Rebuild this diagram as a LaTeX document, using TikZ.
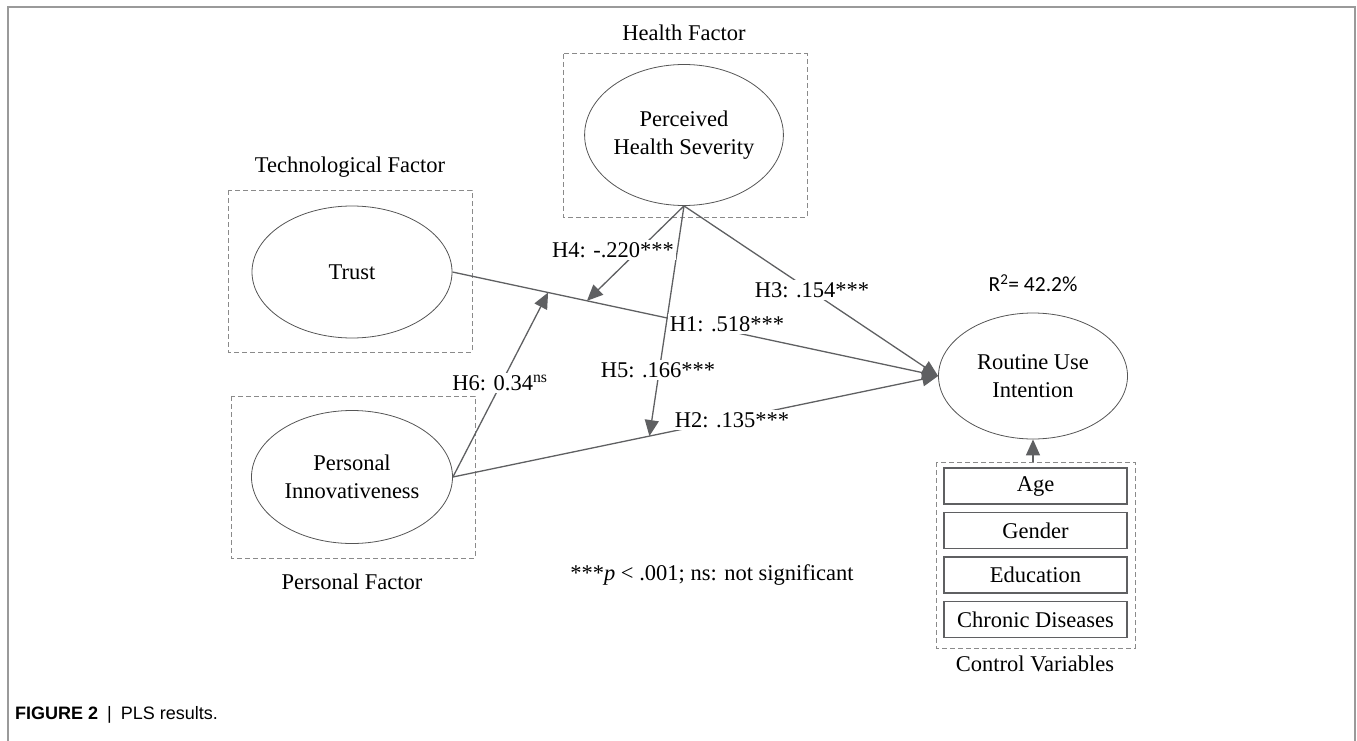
\documentclass[tikz,border=0pt]{standalone}
\usepackage{fontspec}
\setmainfont{Liberation Serif}
\newfontfamily\capfont{Liberation Sans}
\newfontfamily\calfont{Carlito}
\usetikzlibrary{shapes.geometric,arrows.meta,calc}
\definecolor{lnc}{HTML}{5F6062}
\definecolor{dsh}{HTML}{8A8A8A}
\definecolor{frm}{HTML}{9A9A9A}
\definecolor{ell}{HTML}{555555}
\begin{document}
\begin{tikzpicture}[x=1pt,y=-1pt,
  txt/.style={font=\fontsize{22.5}{28}\selectfont, inner sep=1pt},
  lat/.style={ellipse, draw=ell, line width=0.8pt, align=center, txt, inner sep=0pt},
  grp/.style={draw=dsh, dashed, dash pattern=on 5pt off 3pt, line width=1pt},
  conn/.style={draw=lnc, line width=1.3pt},
  arr/.style={conn, -{Triangle[length=16pt,width=14pt]}},
  lab/.style={txt, fill=white, inner sep=2pt},
  cv/.style={draw=lnc, line width=1.3pt, minimum width=183pt, minimum height=36pt, txt}
]
\useasboundingbox (0,0) rectangle (1357,741);
% outer frame
\draw[frm, line width=1.8pt] (8,741) -- (8,7) -- (1355,7) -- (1355,741);

% group boxes
\draw[grp] (563,54) rectangle (807,217);
\draw[grp] (228,190) rectangle (472,352);
\draw[grp] (231,396) rectangle (475,558);
\draw[grp] (936,462) rectangle (1135,648);

% group labels
\node[txt] (hf) at (684,33) {Health Factor};
\node[txt] (tf) at (350,167) {Technological Factor};
\node[txt] (pf) at (352,582) {Personal Factor};
\node[txt] (cvl) at (1035,664) {Control Variables};

% latent variables
\node[lat, minimum width=195pt, minimum height=141pt] (P) at (684,135) {Perceived\\Health Severity};
\node[lat, minimum width=200pt, minimum height=132pt] (T) at (352,272) {Trust};
\node[lat, minimum width=201pt, minimum height=133pt] (I) at (352,477) {Personal\\Innovativeness};
\node[lat, minimum width=189pt, minimum height=126pt] (R) at (1033,376) {Routine Use\\Intention};

\node[font=\calfont\fontsize{21.5}{25}\selectfont] (r2) at (1033,283) {R\textsuperscript{2}= 42.2\%};

% control variables
\node[cv] (age) at (1035.5,486) {Age};
\node[cv] (gen) at (1035.5,530.5) {Gender};
\node[cv] (edu) at (1035.5,575) {Education};
\node[cv] (chr) at (1035.5,619.5) {Chronic Diseases};
\coordinate (cvtop) at (1033,462);
\draw[arr] (cvtop) -- (R.south);

% moderation points
\coordinate (m4) at ($(T.east)!0.277!(R.west)$);
\coordinate (m6) at ($(T.east)!0.197!(R.west)$);
\coordinate (m5) at ($(I.east)!0.405!(R.west)$);

% paths
\draw[arr] (T.east) -- (R.west);
\draw[arr] (I.east) -- (R.west);
\draw[arr] (P.south) -- (R.west);
\draw[arr] (P.south) -- (m4);
\draw[arr] (P.south) -- (m5);
\draw[arr] (I.east) -- (m6);

% labels
\node[lab] (h4) at (613,250) {H4: -.220***};
\node[lab] (h3) at (812,290) {H3: .154***};
\node[lab] (h1) at (727,324) {H1: .518***};
\node[lab] (h5) at (658,370) {H5: .166***};
\node[lab] (h2) at (732,420) {H2: .135***};
\node[lab] (h6) at (500,383) {H6: 0.34\textsuperscript{ns}};

\node[txt] (note) at (712,575) {***\textit{p} < .001; ns: not significant};

\node[anchor=west, font=\capfont\fontsize{18}{21}\selectfont, inner sep=0pt] (cap) at (15,715) {\textbf{FIGURE 2}\hspace{0.5em}|\hspace{0.5em}PLS results.};
\end{tikzpicture}
\end{document}
